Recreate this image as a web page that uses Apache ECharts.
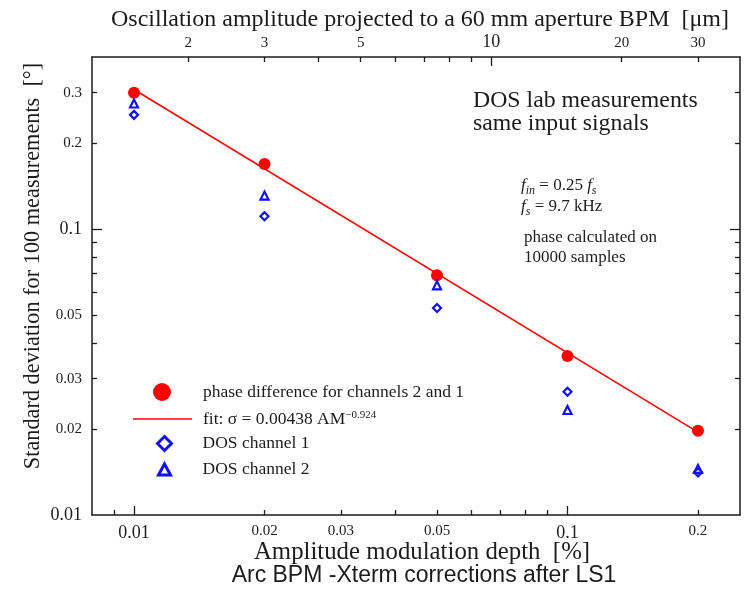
<!DOCTYPE html>
<html>
<head>
<meta charset="utf-8">
<script src="https://cdn.jsdelivr.net/npm/echarts@6/dist/echarts.min.js"></script>
<style>
  html, body { margin: 0; padding: 0; background: #fff; }
  #chart { width: 744px; height: 591px; }
</style>
</head>
<body>
<div id="chart"></div>
<script>
// Amplitude modulation depth [%] of each measurement
const depth = [0.01, 0.02, 0.05, 0.1, 0.2];
// Standard deviation [deg] over 100 measurements
const phaseDiff = [0.30, 0.169, 0.069, 0.036, 0.0197];
const dosCh1 = [0.251, 0.111, 0.053, 0.027, 0.0141];
const dosCh2 = [0.275, 0.131, 0.0636, 0.0233, 0.0145];
// Power-law fit drawn over the measured range (end points)
const fitDepth = [0.01, 0.2];
const fitSigma = [0.308, 0.0195];

// Axis ticks and labels
const xTicks = [0.009, 0.02, 0.03, 0.04, 0.05, 0.06, 0.07, 0.08, 0.09, 0.2];
const xMajorTicks = [0.01, 0.1];
const xLabels = [0.01, 0.02, 0.03, 0.05, 0.1, 0.2];
const yTicks = [0.02, 0.03, 0.04, 0.05, 0.06, 0.07, 0.08, 0.09, 0.2, 0.3];
const yMajorTicks = [0.1];
const yLabels = [0.01, 0.02, 0.03, 0.05, 0.1, 0.2, 0.3];
const umTicks = [2, 3, 4, 5, 6, 7, 8, 9, 20, 30];
const umMajorTicks = [10];
const umLabels = [2, 3, 5, 10, 20, 30];
const bigLabels = [0.01, 0.1, 10];

// Axis ranges; the top scale is the depth converted to µm for a 60 mm aperture BPM
const depthMin = 0.008, depthMax = 0.25;
const sigmaMin = 0.01, sigmaMax = 0.4;
const umPerPercent = 150;

const serif = '"Liberation Serif", "Times New Roman", serif';
const sans = '"Liberation Sans", Arial, sans-serif';
const ink = '#1c1c1c';
const red = '#ff0000';
const blue = '#1010ff';

const zip = (xs, ys) => xs.map((x, i) => [x, ys[i]]);
const fmtLabel = v => {
  const s = String(+(+v).toPrecision(3));
  return bigLabels.indexOf(+s) >= 0 ? '{big|' + s + '}' : '{sm|' + s + '}';
};
const labelRich = {
  big: { fontFamily: serif, fontSize: 18, color: ink },
  sm: { fontFamily: serif, fontSize: 15, color: ink }
};

function logAxis(o) {
  return {
    type: 'log', logBase: 10, gridIndex: 0,
    min: o.min, max: o.max, position: o.position,
    axisLine: { show: o.line !== false, onZero: false, lineStyle: { color: ink, width: 1.5 } },
    splitLine: { show: false },
    minorTick: { show: false },
    axisTick: {
      show: true, inside: true, length: o.tickLen,
      customValues: o.ticks,
      lineStyle: { color: ink, width: 1.3 }
    },
    axisLabel: o.labels ? {
      show: true, margin: o.margin, customValues: o.labels,
      formatter: fmtLabel, rich: labelRich
    } : { show: false },
    silent: true
  };
}

const chart = echarts.init(document.getElementById('chart'), null, { renderer: 'canvas' });

const legendText = pad => ({
  fontFamily: serif, fontSize: 17.5, color: ink, padding: [0, 0, 0, pad],
  rich: { sup: { fontFamily: serif, fontSize: 11, color: ink, verticalAlign: 'top' } }
});
const legendBase = { padding: 0, selectedMode: false, orient: 'horizontal' };

// italic symbol with a lowered subscript
const subRich = {
  i: { fontFamily: serif, fontSize: 17, fontStyle: 'italic', fill: ink },
  sub: { fontFamily: serif, fontSize: 12, fontStyle: 'italic', fill: ink, padding: [9, 0, 0, 0] }
};

const option = {
  animation: false,
  backgroundColor: '#fff',
  grid: { left: 92, right: 4, top: 57, bottom: 76, containLabel: false },
  xAxis: [
    logAxis({ min: depthMin, max: depthMax, position: 'bottom', tickLen: 5, ticks: xTicks, labels: xLabels, margin: 9 }),
    logAxis({ min: depthMin, max: depthMax, position: 'bottom', tickLen: 9, ticks: xMajorTicks, line: false }),
    logAxis({ min: depthMin * umPerPercent, max: depthMax * umPerPercent, position: 'top', tickLen: 5, ticks: umTicks, labels: umLabels, margin: 6 }),
    logAxis({ min: depthMin * umPerPercent, max: depthMax * umPerPercent, position: 'top', tickLen: 9, ticks: umMajorTicks, line: false })
  ],
  yAxis: [
    logAxis({ min: sigmaMin, max: sigmaMax, position: 'left', tickLen: 5, ticks: yTicks, labels: yLabels, margin: 10 }),
    logAxis({ min: sigmaMin, max: sigmaMax, position: 'left', tickLen: 10, ticks: yMajorTicks, line: false }),
    logAxis({ min: sigmaMin, max: sigmaMax, position: 'right', tickLen: 5, ticks: yTicks }),
    logAxis({ min: sigmaMin, max: sigmaMax, position: 'right', tickLen: 10, ticks: yMajorTicks, line: false })
  ],
  legend: [
    Object.assign({}, legendBase, {
      data: [{ name: 'phase difference for channels 2 and 1', icon: 'circle' }],
      left: 153, top: 383, itemWidth: 18, itemHeight: 18,
      itemStyle: { color: red, opacity: 1 },
      textStyle: legendText(27)
    }),
    Object.assign({}, legendBase, {
      data: [{ name: 'fit', icon: 'rect' }],
      left: 133, top: 410, itemWidth: 59, itemHeight: 1.6,
      itemStyle: { color: red },
      formatter: () => 'fit: σ = 0.00438 AM{sup|−0.924}',
      textStyle: legendText(6)
    }),
    Object.assign({}, legendBase, {
      data: [{ name: 'DOS channel 1', icon: 'diamond' }],
      left: 156, top: 434.5, itemWidth: 14, itemHeight: 14,
      itemStyle: { borderWidth: 3, borderColor: blue, color: 'rgba(255,255,255,0)' },
      textStyle: legendText(26)
    }),
    Object.assign({}, legendBase, {
      data: [{ name: 'DOS channel 2', icon: 'triangle' }],
      left: 157, top: 460.5, itemWidth: 12, itemHeight: 11,
      itemStyle: { borderWidth: 3, borderColor: blue, color: 'rgba(255,255,255,0)' },
      textStyle: legendText(27)
    })
  ],
  series: [
    {
      name: 'fit', type: 'line', xAxisIndex: 0, yAxisIndex: 0,
      data: zip(fitDepth, fitSigma), symbol: 'none',
      lineStyle: { color: red, width: 1.6 }, itemStyle: { color: red }, z: 2
    },
    {
      name: 'phase difference for channels 2 and 1', type: 'scatter',
      xAxisIndex: 0, yAxisIndex: 0, data: zip(depth, phaseDiff),
      symbol: 'circle', symbolSize: 12, itemStyle: { color: red, opacity: 1 }, z: 3
    },
    {
      name: 'DOS channel 1', type: 'scatter', xAxisIndex: 0, yAxisIndex: 0,
      data: zip(depth, dosCh1), symbol: 'diamond', symbolSize: 8,
      itemStyle: { color: 'rgba(255,255,255,0)', borderColor: blue, borderWidth: 2.2, opacity: 1 }, z: 4
    },
    {
      name: 'DOS channel 2', type: 'scatter', xAxisIndex: 0, yAxisIndex: 0,
      data: zip(depth, dosCh2), symbol: 'triangle', symbolSize: 8,
      itemStyle: { color: 'rgba(255,255,255,0)', borderColor: blue, borderWidth: 2.2, opacity: 1 }, z: 4
    }
  ],
  graphic: [
    { type: 'text', x: 420, y: 20, silent: true,
      style: { text: 'Oscillation amplitude projected to a 60 mm aperture BPM  [μm]', fontFamily: serif, fontSize: 24, fill: ink, align: 'center', verticalAlign: 'middle' } },
    { type: 'text', x: 422, y: 552, silent: true,
      style: { text: 'Amplitude modulation depth  [%]', fontFamily: serif, fontSize: 24.8, fill: ink, align: 'center', verticalAlign: 'middle' } },
    { type: 'text', x: 424, y: 576, silent: true,
      style: { text: 'Arc BPM -Xterm corrections after LS1', fontFamily: sans, fontSize: 23, fill: ink, align: 'center', verticalAlign: 'middle' } },
    { type: 'text', x: 33, y: 266, rotation: Math.PI / 2, silent: true,
      style: { text: 'Standard deviation for 100 measurements  [°]', fontFamily: serif, fontSize: 22.3, fill: ink, align: 'center', verticalAlign: 'middle' } },
    { type: 'text', x: 473, y: 101, silent: true,
      style: { text: 'DOS lab measurements', fontFamily: serif, fontSize: 23.8, fill: ink, align: 'left', verticalAlign: 'middle' } },
    { type: 'text', x: 473, y: 124, silent: true,
      style: { text: 'same input signals', fontFamily: serif, fontSize: 23.8, fill: ink, align: 'left', verticalAlign: 'middle' } },
    { type: 'text', x: 521, y: 186, silent: true,
      style: {
        text: '{i|f}{sub|in} = 0.25 {i|f}{sub|s}', fontFamily: serif, fontSize: 17, fill: ink,
        align: 'left', verticalAlign: 'middle', rich: subRich
      } },
    { type: 'text', x: 521, y: 207, silent: true,
      style: {
        text: '{i|f}{sub|s} = 9.7 kHz', fontFamily: serif, fontSize: 17, fill: ink,
        align: 'left', verticalAlign: 'middle', rich: subRich
      } },
    { type: 'text', x: 524, y: 238, silent: true,
      style: { text: 'phase calculated on', fontFamily: serif, fontSize: 17, fill: ink, align: 'left', verticalAlign: 'middle' } },
    { type: 'text', x: 524, y: 258, silent: true,
      style: { text: '10000 samples', fontFamily: serif, fontSize: 17, fill: ink, align: 'left', verticalAlign: 'middle' } }
  ]
};

chart.setOption(option);
</script>
</body>
</html>
